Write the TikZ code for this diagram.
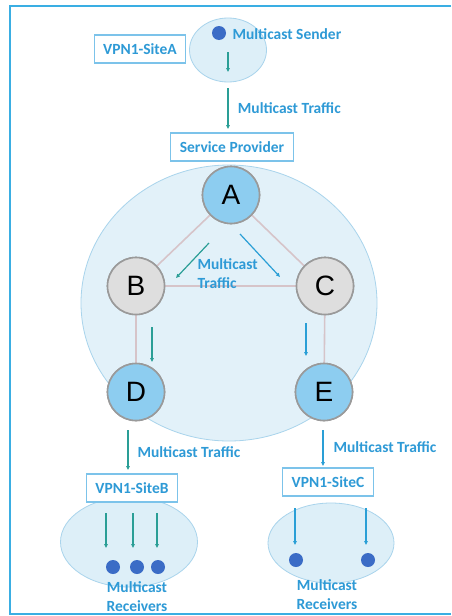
\documentclass[tikz,border=0pt]{standalone}
\usepackage{fontspec}
\setmainfont{Carlito}
\newfontfamily\letterfont{Liberation Sans}
\usetikzlibrary{shapes.geometric,arrows.meta}

\definecolor{sky}{HTML}{2E9AD6}
\definecolor{frameblue}{HTML}{3AAEE3}
\definecolor{boxline}{HTML}{7CC3EA}
\definecolor{nodeblue}{HTML}{8DCDF0}
\definecolor{nodegray}{HTML}{DEDEDE}
\definecolor{ringgray}{HTML}{9A9A9A}
\definecolor{linkpink}{HTML}{D6C4C9}
\definecolor{areablue}{HTML}{DDEFF8}
\definecolor{arealine}{HTML}{A9D4EC}
\definecolor{arrowteal}{HTML}{2A9E96}
\definecolor{arrowblue}{HTML}{2A9FD6}
\definecolor{dotblue}{HTML}{3B6CC6}

\tikzset{
  bluetext/.style={text=sky, font=\bfseries\fontsize{15.5}{19}\selectfont},
  sitebox/.style={draw=boxline, line width=1.2pt, fill=white, bluetext, inner xsep=9pt, minimum height=28pt},
  router/.style={circle, draw=ringgray, line width=1.6pt, minimum size=57pt, inner sep=0pt,
    font=\letterfont\fontsize{28}{28}\selectfont},
  siteArea/.style={ellipse, draw=arealine, fill=areablue, line width=0.8pt, inner sep=0pt},
  host/.style={circle, fill=dotblue, minimum size=14pt, inner sep=0pt},
  link/.style={linkpink, line width=1.6pt},
  flowteal/.style={arrowteal, line width=1.2pt, -{Triangle[length=4pt,width=3.5pt]}},
  flowblue/.style={arrowblue, line width=1.2pt, -{Triangle[length=4pt,width=3.5pt]}}
}

\begin{document}
\begin{tikzpicture}[x=1pt,y=-1pt]
\useasboundingbox (0,0) rectangle (451,616);
\fill[white] (0,0) rectangle (451,616);

% frame
\draw[frameblue, line width=1.5pt] (451,6) -- (10,6) -- (10,614) -- (451,614);

% site A
\node[siteArea, minimum width=77pt, minimum height=64pt] (siteA) at (228,50) {};
\node[host] (sender) at (219,33) {};
\node[bluetext, anchor=west] (senderlbl) at (229,34) {Multicast Sender};
\node[sitebox] (vpnA) at (140,49) {VPN1-SiteA};
\coordinate (sa1) at (228,52);
\coordinate (sa2) at (228,72);
\draw[flowteal] (sa1) -- (sa2);

% provider core
\node[siteArea, fill=areablue!85, minimum width=296pt, minimum height=276pt] (core) at (229,303) {};
\node[sitebox] (sp) at (232,147) {Service Provider};
\coordinate (t1) at (228,88);
\coordinate (t2) at (228,129);
\draw[flowteal] (t1) -- (t2) node[midway, right=6pt, bluetext] {Multicast Traffic};

\node[router, fill=nodeblue] (A) at (231,195) {A};
\node[router, fill=nodegray] (B) at (136,286) {B};
\node[router, fill=nodegray] (C) at (325,286) {C};
\node[router, fill=nodeblue] (D) at (136,392) {D};
\node[router, fill=nodeblue] (E) at (324,392) {E};

\draw[link] (A) -- (B);
\draw[link] (A) -- (C);
\draw[link] (B) -- (C);
\draw[link] (B) -- (D);
\draw[link] (C) -- (E);

% redraw routers above links
\node[router, fill=nodeblue] at (A) {A};
\node[router, fill=nodegray] at (B) {B};
\node[router, fill=nodegray] at (C) {C};
\node[router, fill=nodeblue] at (D) {D};
\node[router, fill=nodeblue] at (E) {E};

\coordinate (ab1) at (209,243);
\coordinate (ab2) at (176,278);
\coordinate (ac1) at (240,234);
\coordinate (ac2) at (280,277);
\draw[flowteal] (ab1) -- (ab2);
\draw[flowblue] (ac1) -- (ac2);
\node[bluetext, anchor=west, align=left] (coretext) at (194,274) {Multicast\\Traffic};

\coordinate (bd1) at (152,327);
\coordinate (bd2) at (152,362);
\coordinate (ce1) at (306,323);
\coordinate (ce2) at (306,356);
\draw[flowteal] (bd1) -- (bd2);
\draw[flowblue] (ce1) -- (ce2);

% egress to sites
\coordinate (d1) at (128,430);
\coordinate (d2) at (128,470);
\coordinate (e1) at (323,430);
\coordinate (e2) at (323,466);
\draw[flowteal] (d1) -- (d2);
\draw[flowblue] (e1) -- (e2);
\node[bluetext, anchor=west] (dlbl) at (134,452) {Multicast Traffic};
\node[bluetext, anchor=west] (elbl) at (330,447) {Multicast Traffic};

% site B
\node[siteArea, minimum width=137pt, minimum height=90pt] (siteB) at (129,542) {};
\node[sitebox] (vpnB) at (132,488) {VPN1-SiteB};
\foreach \x/\n in {113/1,137/2,158/3}{
  \node[host] (rb\n) at (\x,567) {};
}
\foreach \x/\n in {106/1,133/2,157/3}{
  \coordinate (rbs\n) at (\x,513);
  \coordinate (rbe\n) at (\x,548);
  \draw[flowteal] (rbs\n) -- (rbe\n);
}
\node[bluetext, align=center] (rcvB) at (137,597) {Multicast\\Receivers};

% site C
\node[siteArea, minimum width=126pt, minimum height=80pt] (siteC) at (331,543) {};
\node[sitebox] (vpnC) at (328,482) {VPN1-SiteC};
\node[host] (rc1) at (296,560) {};
\node[host] (rc2) at (368,560) {};
\foreach \x/\n in {295/1,366/2}{
  \coordinate (rcs\n) at (\x,508);
  \coordinate (rce\n) at (\x,545);
  \draw[flowblue] (rcs\n) -- (rce\n);
}
\node[bluetext, align=center] (rcvC) at (327,595) {Multicast\\Receivers};

\end{tikzpicture}
\end{document}
